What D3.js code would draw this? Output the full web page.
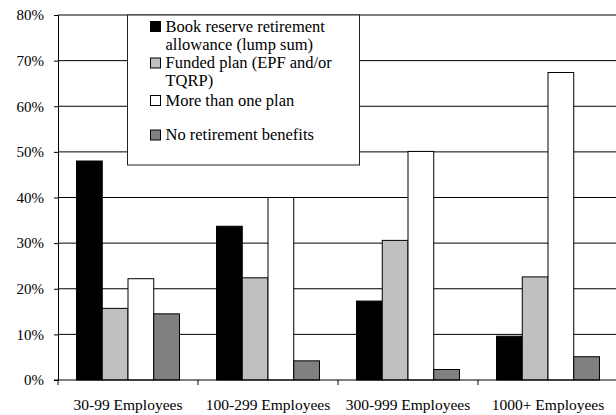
<!DOCTYPE html>
<html><head><meta charset="utf-8">
<script src="https://cdn.jsdelivr.net/npm/d3@7"></script>
<style>body{margin:0;background:#fff}svg{display:block}</style>
</head><body><svg id="c" width="616" height="415"></svg>
<script>
const categories = ["30-99 Employees","100-299 Employees","300-999 Employees","1000+ Employees"];
const seriesNames = ["Book reserve retirement allowance (lump sum)","Funded plan (EPF and/or TQRP)","More than one plan","No retirement benefits"];
const legendLines = [["Book reserve retirement","allowance (lump sum)"],["Funded plan (EPF and/or","TQRP)"],["More than one plan"],["No retirement benefits"]];
const seriesColors = ["#000000","#c0c0c0","#ffffff","#808080"];
const bookReserve = [0.480, 0.337, 0.173, 0.096];
const fundedPlan = [0.157, 0.224, 0.306, 0.226];
const moreThanOne = [0.222, 0.400, 0.501, 0.674];
const noBenefits = [0.145, 0.042, 0.023, 0.051];
const seriesValues = [bookReserve, fundedPlan, moreThanOne, noBenefits];
const yTicks = [0,0.1,0.2,0.3,0.4,0.5,0.6,0.7,0.8];

const FONT = "'Liberation Serif','Times New Roman',serif";
const svg = d3.select("#c");
const m = {left:58, top:15, bottom:35};
const W = 616, H = 415;
const x0 = d3.scaleBand().domain(categories).range([m.left, 618]).paddingInner(0).paddingOuter(0);
const x1 = d3.scaleBand().domain(d3.range(4)).range([0, x0.bandwidth()]).paddingInner(0).paddingOuter(0.72);
const y = d3.scaleLinear().domain([0,0.8]).range([H-m.bottom, m.top]);

// gridlines
svg.append("g").selectAll("line").data(yTicks.filter(d=>d>0)).join("line")
  .attr("x1", m.left).attr("x2", W).attr("y1", d=>y(d)).attr("y2", d=>y(d))
  .attr("stroke","#000").attr("stroke-width",1);

// bars
const g = svg.append("g");
categories.forEach((c,ci)=>{
  seriesValues.forEach((vals,si)=>{
    g.append("rect")
      .attr("x", x0(c)+x1(si)).attr("width", x1.bandwidth())
      .attr("y", y(vals[ci])).attr("height", y(0)-y(vals[ci]))
      .attr("fill", seriesColors[si]).attr("stroke","#000").attr("stroke-width",1);
  });
});

// y axis
const yAxis = d3.axisLeft(y).tickValues(yTicks).tickFormat(d3.format(".0%")).tickSize(4).tickPadding(10);
const ya = svg.append("g").attr("transform",`translate(${m.left},0)`).call(yAxis);
ya.attr("font-family", null).attr("font-size", null);
ya.select(".domain").attr("stroke","#000");
ya.selectAll("text").style("font-size","15px").style("font-family",FONT).attr("fill","#000");

// x axis
const xa = svg.append("g").attr("transform",`translate(0,${y(0)})`);
xa.append("line").attr("x1",m.left-4).attr("x2",W).attr("y1",0).attr("y2",0).attr("stroke","#000");
xa.selectAll("line.tk").data(categories.concat(["end"])).join("line").attr("class","tk")
  .attr("x1",(d,i)=>m.left+i*x0.step()).attr("x2",(d,i)=>m.left+i*x0.step())
  .attr("y1",0).attr("y2",5).attr("stroke","#000");
xa.selectAll("text").data(categories).join("text")
  .attr("x", d=>x0(d)+x0.bandwidth()/2).attr("y", 29.5)
  .attr("text-anchor","middle").style("font-size","15.5px").style("font-family",FONT).text(d=>d);

// legend
const lg = svg.append("g").attr("transform","translate(127.5,15)");
lg.append("rect").attr("x",0).attr("y",0).attr("width",232).attr("height",150)
  .attr("fill","#fff").attr("stroke","#222").attr("stroke-width",1);
const rowY = [6.5, 43, 80.5, 115];
seriesNames.forEach((s,i)=>{
  lg.append("rect").attr("x",23).attr("y",rowY[i]).attr("width",10).attr("height",10)
    .attr("fill",seriesColors[i]).attr("stroke","#000").attr("stroke-width",1);
  legendLines[i].forEach((t,j)=>{
    lg.append("text").attr("x",38).attr("y",rowY[i]+10+j*18)
      .style("font-size","16.5px").style("font-family",FONT).text(t);
  });
});
</script></body></html>
